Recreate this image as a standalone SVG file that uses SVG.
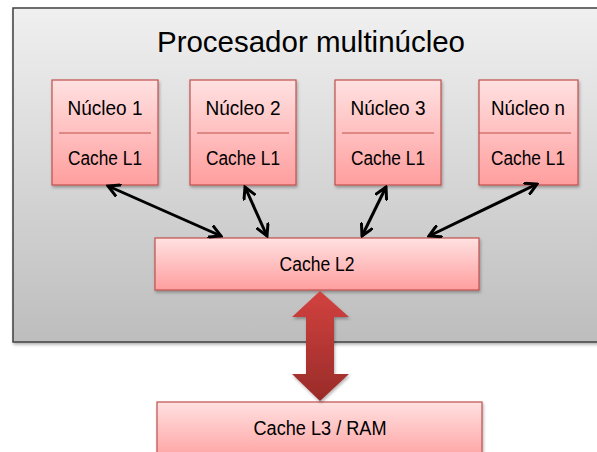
<svg xmlns="http://www.w3.org/2000/svg" width="597" height="452" viewBox="0 0 597 452">
  <defs>
    <linearGradient id="bgGrad" x1="0" y1="0" x2="0" y2="1">
      <stop offset="0" stop-color="#f0f0f0"/>
      <stop offset="1" stop-color="#bdbdbd"/>
    </linearGradient>
    <linearGradient id="boxGrad" x1="0" y1="0" x2="0" y2="1">
      <stop offset="0" stop-color="#ffe1e1"/>
      <stop offset="1" stop-color="#ff9e9e"/>
    </linearGradient>
    <linearGradient id="busGrad" x1="0" y1="0" x2="0" y2="1">
      <stop offset="0" stop-color="#d2423f"/>
      <stop offset="1" stop-color="#992b29"/>
    </linearGradient>
    <filter id="shadow" x="-10%" y="-10%" width="130%" height="140%">
      <feDropShadow dx="1" dy="2" stdDeviation="1.5" flood-color="#000" flood-opacity="0.3"/>
    </filter>
    <marker id="chev" viewBox="0 0 14 14" refX="12" refY="7" markerWidth="14" markerHeight="14" markerUnits="userSpaceOnUse" orient="auto-start-reverse">
      <path d="M1,1 L12,7 L1,13" fill="none" stroke="#000" stroke-width="3" stroke-linecap="round" stroke-linejoin="miter"/>
    </marker>
    <style>
      .box { fill: url(#boxGrad); stroke: #c0504d; stroke-width: 1.2; filter: url(#shadow); }
      .div { stroke: #c0504d; stroke-width: 1.2; }
      .lbl { font-family: "Liberation Sans", Arial, sans-serif; font-size: 19.5px; fill: #000; text-anchor: middle; }
      .title { font-family: "Liberation Sans", Arial, sans-serif; font-size: 29px; fill: #000; text-anchor: middle; }
      .link { stroke: #000; stroke-width: 3; fill: none; marker-start: url(#chev); marker-end: url(#chev); }
    </style>
  </defs>

  <rect width="597" height="452" fill="#ffffff"/>

  <!-- processor enclosure -->
  <g id="processor">
    <rect x="13" y="8" width="600" height="334" fill="url(#bgGrad)" stroke="#404040" stroke-width="1.5" filter="url(#shadow)"/>
    <text class="title" x="311" y="52" textLength="308" lengthAdjust="spacingAndGlyphs">Procesador multinúcleo</text>
  </g>

  <!-- cores -->
  <g id="core1">
    <rect class="box" x="52" y="80" width="106" height="105"/>
    <line class="div" x1="59" y1="133" x2="151" y2="133"/>
    <text class="lbl" x="105" y="115" textLength="75" lengthAdjust="spacingAndGlyphs">Núcleo 1</text>
    <text class="lbl" x="105" y="165" textLength="74" lengthAdjust="spacingAndGlyphs">Cache L1</text>
  </g>
  <g id="core2">
    <rect class="box" x="190" y="80" width="106" height="105"/>
    <line class="div" x1="197" y1="133" x2="289" y2="133"/>
    <text class="lbl" x="243" y="115" textLength="75" lengthAdjust="spacingAndGlyphs">Núcleo 2</text>
    <text class="lbl" x="243" y="165" textLength="74" lengthAdjust="spacingAndGlyphs">Cache L1</text>
  </g>
  <g id="core3">
    <rect class="box" x="335" y="80" width="106" height="105"/>
    <line class="div" x1="342" y1="133" x2="434" y2="133"/>
    <text class="lbl" x="388" y="115" textLength="75" lengthAdjust="spacingAndGlyphs">Núcleo 3</text>
    <text class="lbl" x="388" y="165" textLength="74" lengthAdjust="spacingAndGlyphs">Cache L1</text>
  </g>
  <g id="coreN">
    <rect class="box" x="479" y="80" width="99" height="105"/>
    <line class="div" x1="479" y1="133" x2="571" y2="133"/>
    <text class="lbl" x="528" y="115" textLength="74" lengthAdjust="spacingAndGlyphs">Núcleo n</text>
    <text class="lbl" x="528" y="165" textLength="74" lengthAdjust="spacingAndGlyphs">Cache L1</text>
  </g>

  <!-- shared L2 -->
  <g id="cacheL2">
    <rect class="box" x="155" y="238" width="324" height="52"/>
    <text class="lbl" x="317" y="271" textLength="75" lengthAdjust="spacingAndGlyphs">Cache L2</text>
  </g>

  <!-- L3 / main memory -->
  <g id="cacheL3">
    <rect class="box" x="157" y="402" width="325" height="60"/>
    <text class="lbl" x="320" y="435" textLength="133" lengthAdjust="spacingAndGlyphs">Cache L3 / RAM</text>
  </g>

  <!-- connectors -->
  <g id="connectors">
    <line class="link" x1="108" y1="186" x2="221" y2="236"/>
    <line class="link" x1="245" y1="187" x2="267" y2="236"/>
    <line class="link" x1="386" y1="187" x2="362" y2="236"/>
    <line class="link" x1="537" y1="184" x2="429" y2="236"/>
    <path d="M320,291 L349,317 L334,317 L334,374 L349,374 L320,401 L292,374 L306,374 L306,317 L292,317 Z" fill="url(#busGrad)" filter="url(#shadow)"/>
  </g>
</svg>
